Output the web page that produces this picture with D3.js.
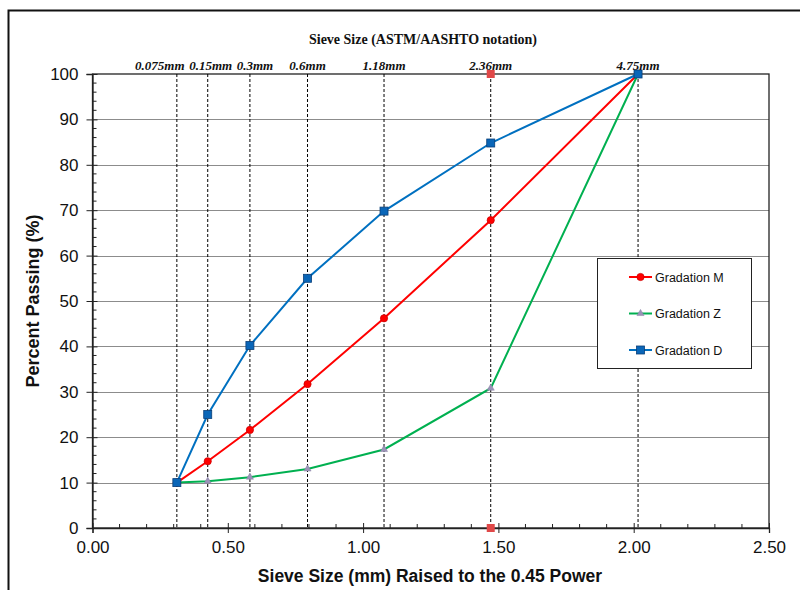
<!DOCTYPE html>
<html>
<head>
<meta charset="utf-8">
<script src="https://cdn.jsdelivr.net/npm/d3@7"></script>
<style>
  body { margin: 0; background: #fff; }
  svg { display: block; }
</style>
</head>
<body>
<svg id="chart" width="800" height="590"></svg>
<script>
// Sieve sizes (mm) and their labels
const sieveSizes = [0.075, 0.15, 0.3, 0.6, 1.18, 2.36, 4.75];
const sieveLabels = ["0.075mm", "0.15mm", "0.3mm", "0.6mm", "1.18mm", "2.36mm", "4.75mm"];

// Percent passing for each gradation
const gradationM = [10, 14.7, 21.6, 31.7, 46.2, 67.8, 100];
const gradationZ = [10, 10.3, 11.2, 13.0, 17.3, 30.8, 100];
const gradationD = [10, 25.0, 40.2, 55.0, 69.8, 84.8, 100];

// Maximum-density reference markers at 2.36 mm
const refSieve = 2.36;
const refValues = [100, 0];

const xTicks = [0, 0.5, 1.0, 1.5, 2.0, 2.5];
const yTicks = [0, 10, 20, 30, 40, 50, 60, 70, 80, 90, 100];

const power = 0.45;

const svg = d3.select("#chart");
const plotLeft = 92.5, plotRight = 769, plotTop = 74, plotBottom = 528;

const x = d3.scaleLinear().domain([0, 2.5]).range([plotLeft, plotRight]);
const y = d3.scaleLinear().domain([0, 100]).range([plotBottom, plotTop]);

// Outer frame
svg.append("rect")
  .attr("x", 8.5).attr("y", 10.5)
  .attr("width", 820).attr("height", 620)
  .attr("fill", "none").attr("stroke", "#111").attr("stroke-width", 2);

// Horizontal gridlines
svg.append("g")
  .selectAll("line")
  .data(yTicks.filter(d => d > 0 && d < 100))
  .join("line")
  .attr("x1", plotLeft).attr("x2", plotRight)
  .attr("y1", d => Math.round(y(d)) + 0.5).attr("y2", d => Math.round(y(d)) + 0.5)
  .attr("stroke", "#8c8c8c").attr("stroke-width", 1);

// Plot frame
svg.append("rect")
  .attr("x", plotLeft).attr("y", plotTop)
  .attr("width", plotRight - plotLeft).attr("height", plotBottom - plotTop)
  .attr("fill", "none").attr("stroke", "#222").attr("stroke-width", 1.3);

// Sieve dashed verticals
svg.append("g")
  .selectAll("line")
  .data(sieveSizes)
  .join("line")
  .attr("x1", d => x(Math.pow(d, power))).attr("x2", d => x(Math.pow(d, power)))
  .attr("y1", plotTop).attr("y2", plotBottom)
  .attr("stroke", "#000").attr("stroke-width", 1).attr("stroke-dasharray", "3,2");

// Axes
const xAxis = d3.axisBottom(x).tickValues(xTicks).tickFormat(d3.format(".2f")).tickSize(5).tickPadding(8);
const gx = svg.append("g").attr("transform", `translate(0,${plotBottom})`).call(xAxis);
gx.select(".domain").attr("stroke", "#222").attr("stroke-width", 1.3);
gx.selectAll(".tick line").attr("stroke", "#222").attr("y1", -5).attr("y2", 5);
gx.selectAll("text").attr("font-family", "Liberation Sans, Arial, sans-serif").attr("font-size", 17).attr("fill", "#111");

const yAxis = d3.axisLeft(y).tickValues(yTicks).tickSize(6).tickPadding(8);
const gy = svg.append("g").attr("transform", `translate(${plotLeft},0)`).call(yAxis);
gy.select(".domain").attr("stroke", "#222").attr("stroke-width", 1.3);
gy.selectAll(".tick line").attr("stroke", "#222").attr("x1", -6).attr("x2", 5);
gy.selectAll("text").attr("font-family", "Liberation Sans, Arial, sans-serif").attr("font-size", 17).attr("fill", "#111");

// Minor ticks
const xMinor = d3.range(0.1, 2.5, 0.1).filter(d => Math.abs(d * 2 - Math.round(d * 2)) > 1e-6);
svg.append("g").selectAll("line").data(xMinor).join("line")
  .attr("x1", d => x(d)).attr("x2", d => x(d))
  .attr("y1", plotBottom - 4).attr("y2", plotBottom)
  .attr("stroke", "#222").attr("stroke-width", 1);
const yMinor = d3.range(2, 100, 2).filter(d => d % 10 !== 0);
svg.append("g").selectAll("line").data(yMinor).join("line")
  .attr("x1", plotLeft).attr("x2", plotLeft + 4)
  .attr("y1", d => y(d)).attr("y2", d => y(d))
  .attr("stroke", "#222").attr("stroke-width", 1);

// Series
const series = [
  { name: "Gradation M", values: gradationM, color: "#ff0000", marker: "circle" },
  { name: "Gradation Z", values: gradationZ, color: "#00b050", marker: "triangle" },
  { name: "Gradation D", values: gradationD, color: "#0070c0", marker: "square" }
];

const line = d3.line()
  .x((d, i) => x(Math.pow(sieveSizes[i], power)))
  .y(d => y(d));

function drawMarker(g, type, cx, cy) {
  if (type === "circle") {
    g.append("circle").attr("cx", cx).attr("cy", cy).attr("r", 3.6)
      .attr("fill", "#ff0000").attr("stroke", "#d00000").attr("stroke-width", 0.8);
  } else if (type === "triangle") {
    const sym = d3.symbol().type(d3.symbolTriangle).size(22);
    g.append("path").attr("d", sym).attr("transform", `translate(${cx},${cy})`)
      .attr("fill", "#9b93b8").attr("stroke", "#8a82a6").attr("stroke-width", 0.5);
  } else {
    g.append("rect").attr("x", cx - 4).attr("y", cy - 4).attr("width", 8).attr("height", 8)
      .attr("fill", "#0a66b8").attr("stroke", "#0a3f78").attr("stroke-width", 0.8);
  }
}

series.forEach(s => {
  svg.append("path").datum(s.values).attr("d", line)
    .attr("fill", "none").attr("stroke", s.color).attr("stroke-width", 2);
});
series.forEach(s => {
  const g = svg.append("g");
  s.values.forEach((v, i) => drawMarker(g, s.marker, x(Math.pow(sieveSizes[i], power)), y(v)));
});

// Reference markers at 2.36 mm
svg.append("g").selectAll("rect").data(refValues).join("rect")
  .attr("x", x(Math.pow(refSieve, power)) - 4).attr("y", d => y(d) - 4)
  .attr("width", 8).attr("height", 8)
  .attr("fill", "#e04848");

// Top sieve labels; the crowded fine sieves are nudged apart
const labelNudge = { "0.075mm": -17, "0.15mm": 3, "0.3mm": 5 };
svg.append("g").selectAll("text").data(sieveSizes).join("text")
  .attr("x", (d, i) => x(Math.pow(d, power)) + (labelNudge[sieveLabels[i]] || 0))
  .attr("y", 70)
  .attr("text-anchor", "middle")
  .attr("font-family", "Liberation Serif, Times New Roman, serif")
  .attr("font-style", "italic").attr("font-weight", "bold").attr("font-size", 13)
  .attr("fill", "#111")
  .text((d, i) => sieveLabels[i]);

svg.append("text")
  .attr("x", 423).attr("y", 44)
  .attr("text-anchor", "middle")
  .attr("font-family", "Liberation Serif, Times New Roman, serif")
  .attr("font-weight", "bold").attr("font-size", 14)
  .attr("fill", "#111")
  .text("Sieve Size (ASTM/AASHTO  notation)");

// Axis titles
svg.append("text")
  .attr("x", 430).attr("y", 582)
  .attr("text-anchor", "middle")
  .attr("font-family", "Liberation Sans, Arial, sans-serif")
  .attr("font-weight", "bold").attr("font-size", 17.5)
  .attr("fill", "#111")
  .text("Sieve Size (mm) Raised to the 0.45 Power");

svg.append("text")
  .attr("transform", "translate(39,301) rotate(-90)")
  .attr("text-anchor", "middle")
  .attr("font-family", "Liberation Sans, Arial, sans-serif")
  .attr("font-weight", "bold").attr("font-size", 18)
  .attr("fill", "#111")
  .text("Percent Passing (%)");

// Legend
const legend = svg.append("g");
legend.append("rect")
  .attr("x", 597.5).attr("y", 258.5).attr("width", 154).attr("height", 110)
  .attr("fill", "#fff").attr("stroke", "#222").attr("stroke-width", 1);
series.forEach((s, i) => {
  const ly = 277 + i * 36.5;
  legend.append("line").attr("x1", 629).attr("x2", 652).attr("y1", ly).attr("y2", ly)
    .attr("stroke", s.color).attr("stroke-width", 2);
  drawMarker(legend, s.marker, 640.5, ly);
  legend.append("text").attr("x", 655).attr("y", ly + 4.5)
    .attr("font-family", "Liberation Sans, Arial, sans-serif").attr("font-size", 12.5)
    .attr("fill", "#111").text(s.name);
});
</script>
</body>
</html>
